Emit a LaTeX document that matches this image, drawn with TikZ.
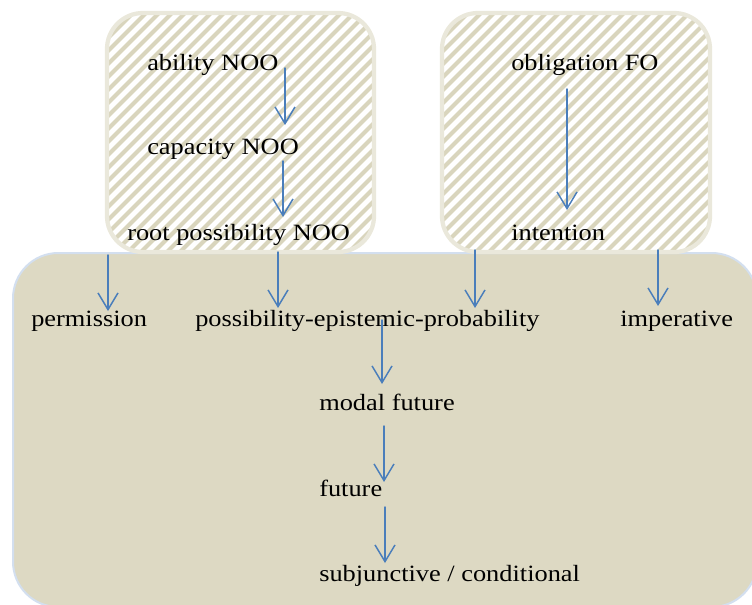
\documentclass[tikz,border=0pt]{standalone}
\usepackage{fontspec}
\setmainfont{Liberation Serif}[FakeStretch=1.13]
\usetikzlibrary{arrows.meta, positioning}

\definecolor{tanfill}{HTML}{DDD9C3}
\definecolor{tanline}{HTML}{EAE8DB}
\definecolor{stripe}{HTML}{D9D5BD}
\definecolor{paleblue}{HTML}{D3DFEF}
\definecolor{arrowblue}{HTML}{4A7EBB}

\begin{document}
\begin{tikzpicture}[x=0.75pt, y=-0.75pt, >={Straight Barb[length=12.5pt,width=15pt]},
    line cap=round, line join=round,
    lbl/.style={anchor=base west, inner sep=0pt, font=\fontsize{17.5}{21}\selectfont},
    flow/.style={->, draw=arrowblue, line width=1.1pt},
    hatchbox/.style={draw=tanline, line width=3.2pt, rounded corners=27pt}]

    \useasboundingbox (0,0) rectangle (752,604);

    % Lower panel
    \draw[fill=tanfill, draw=paleblue, line width=1.5pt, rounded corners=34pt]
        (13,253) rectangle (757,607);

    % Hatched panels
    \foreach \xa/\xb in {107/374, 442/710}{
        \begin{scope}
            \clip[rounded corners=27pt] (\xa,13) rectangle (\xb,252);
            \foreach \k in {-21,...,22}{
                \draw[stripe, line width=3.1pt, line cap=butt] (\xa+13*\k,260) -- ++(270,-270);
            }
        \end{scope}
        \draw[hatchbox] (\xa,13) rectangle (\xb,252);
    }

    % Labels
    \node[lbl] (abil)   at (147,70)  {ability NOO};
    \node[lbl] (capa)   at (147,154) {capacity NOO};
    \node[lbl] (root)   at (127,240) {root possibility NOO};
    \node[lbl] (oblig)  at (511,70)  {obligation FO};
    \node[lbl] (intent) at (511,240) {intention};
    \node[lbl] (perm)   at (31,326)  {permission};
    \node[lbl] (poss)   at (195,326) {possibility-epistemic-probability};
    \node[lbl] (imper)  at (620,326) {imperative};
    \node[lbl] (modfut) at (319,410) {modal future};
    \node[lbl] (fut)    at (319,496) {future};
    \node[lbl] (subj)   at (319,581) {subjunctive / conditional};

    % Arrows
    \foreach \n/\x/\ya/\yb in {
        abcap/285/68/125,
        caproot/283/161/217,
        obint/567/89/210,
        rootperm/108/255/311,
        rootposs/278/252/308,
        intposs/475/250/308,
        intimp/658/250/306,
        possmod/382/320/384,
        modfut/384/426/482,
        futsubj/385/507/563
    }{
        \coordinate (s-\n) at (\x,\ya);
        \coordinate (e-\n) at (\x,\yb);
        \draw[flow] (s-\n) -- (e-\n);
    }

\end{tikzpicture}
\end{document}
